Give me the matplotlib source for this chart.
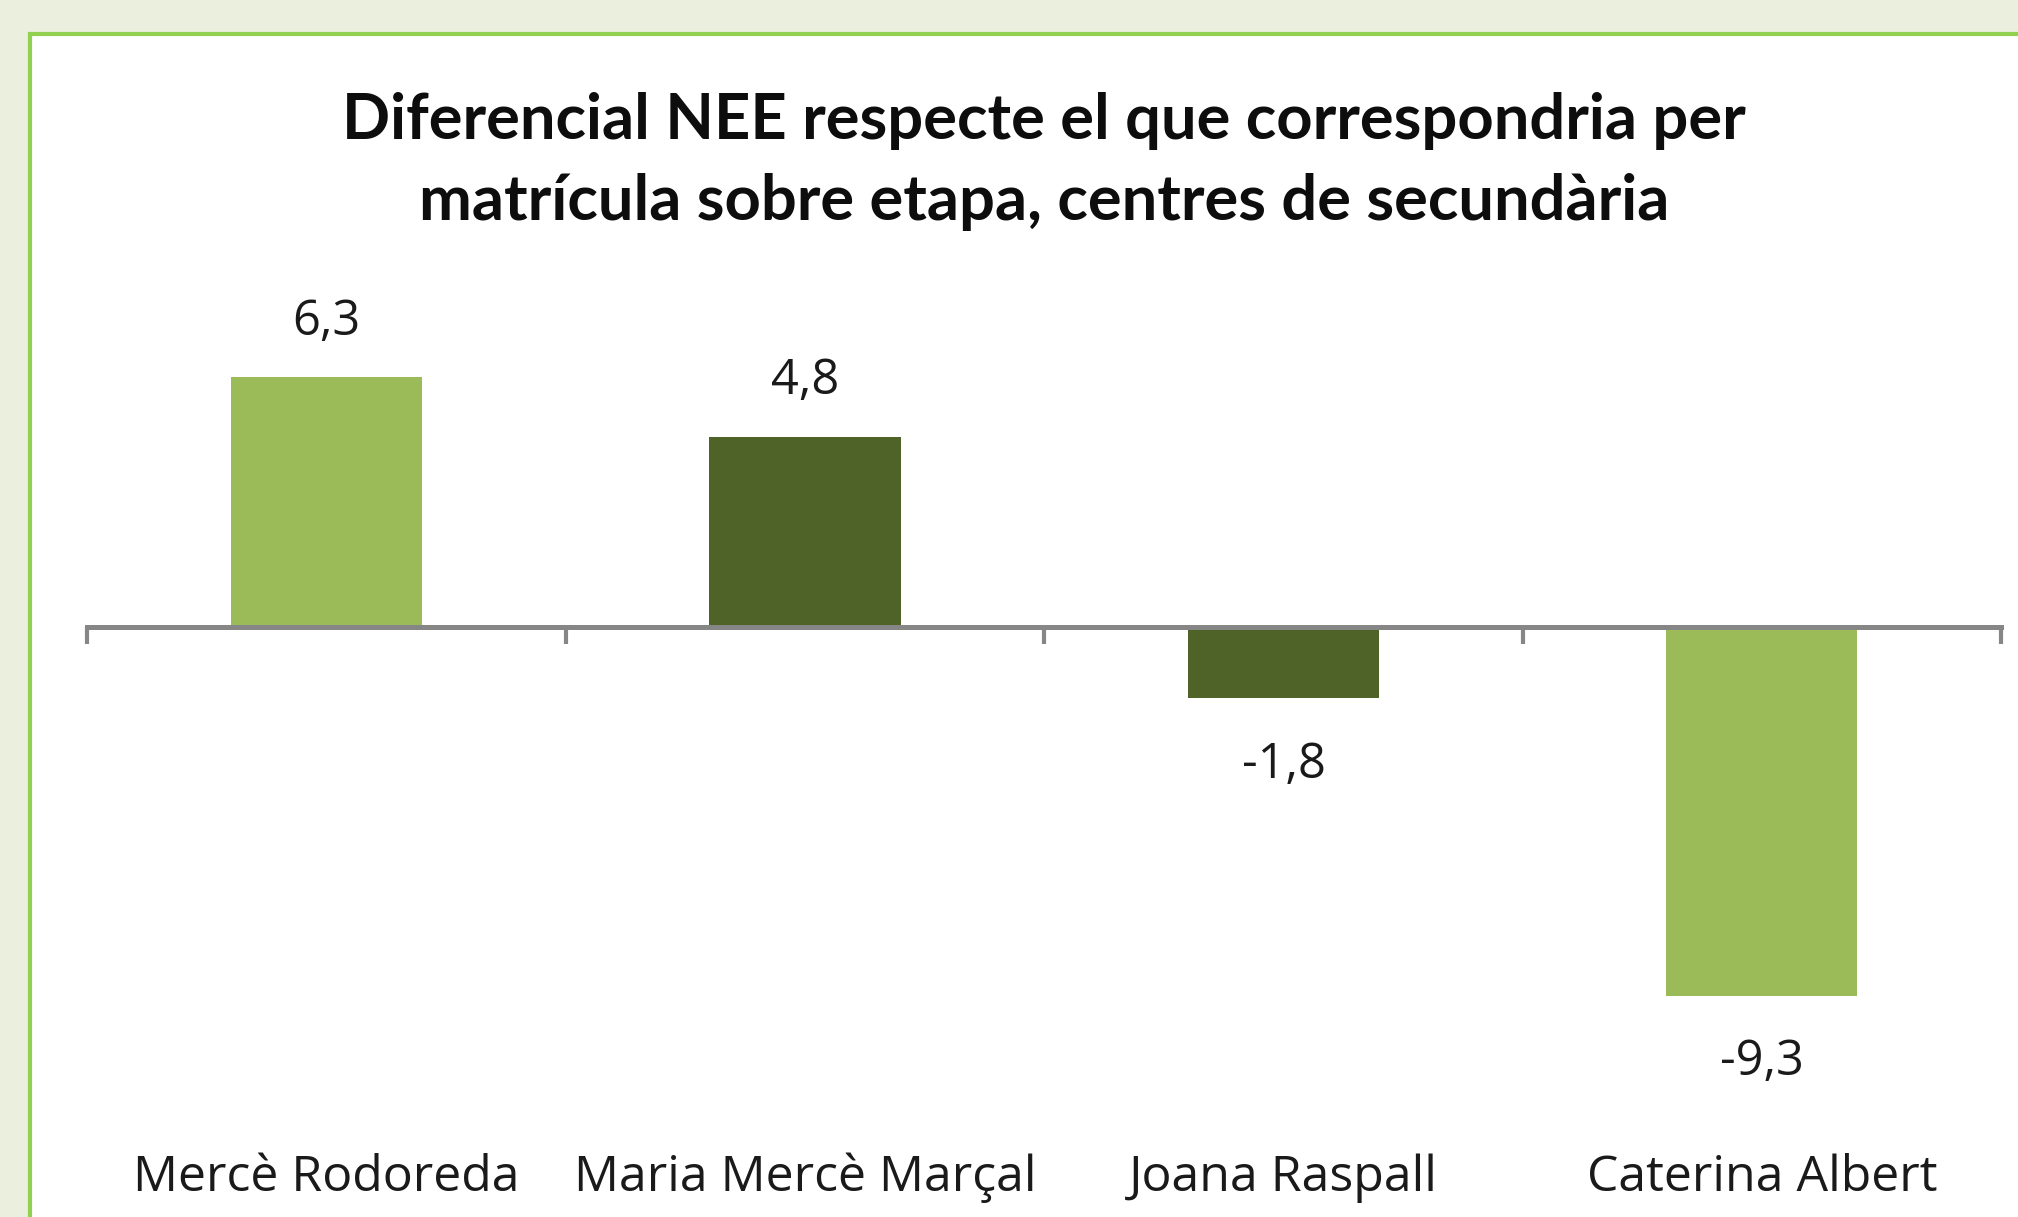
import matplotlib
matplotlib.use("Agg")
import matplotlib.pyplot as plt
from matplotlib.patches import Rectangle
from matplotlib.transforms import blended_transform_factory

categories = ["Mercè Rodoreda", "Maria Mercè Marçal", "Joana Raspall", "Caterina Albert"]
values = [6.3, 4.8, -1.8, -9.3]
value_labels = ["6,3", "4,8", "-1,8", "-9,3"]
title_lines = ["Diferencial NEE respecte el que correspondria per",
               "matrícula sobre etapa, centres de secundària"]

LIGHT = "#9BBB59"
DARK = "#4F6228"
bar_colors = [LIGHT, DARK, DARK, LIGHT]

W, H = 2018, 1217
DPI = 100
fig = plt.figure(figsize=(W / DPI, H / DPI), dpi=DPI, facecolor="#EBEFDE")

# white chart area with green border
fig.patches.append(Rectangle((30 / W, -0.05), 1.1, (H - 34) / H + 0.05,
                             transform=fig.transFigure, facecolor="white",
                             edgecolor="#92D050", linewidth=3.0, zorder=-1))

def px_x(x):
    return x / W

def px_y(y):
    return 1 - y / H

ymin, ymax = -10, 8
zero_px = 627
scale = 39.65
top_px = zero_px - ymax * scale
bot_px = zero_px - ymin * scale
left_px, right_px = 87.5, 2001
ax = fig.add_axes([px_x(left_px), px_y(bot_px), (right_px - left_px) / W, (bot_px - top_px) / H])
ax.set_zorder(2)
ax.set_facecolor("none")
ax.set_xlim(-0.5, len(categories) - 0.5)
ax.set_ylim(ymin, ymax)

x = list(range(len(categories)))
ax.bar(x, values, width=0.4, color=bar_colors, zorder=2)

for s in ["top", "right", "left"]:
    ax.spines[s].set_visible(False)
ax.spines["bottom"].set_position(("data", 0))
ax.spines["bottom"].set_color("#868686")
ax.spines["bottom"].set_linewidth(3.6)
ax.spines["bottom"].set_zorder(3)
ax.set_yticks([])
ax.set_xticks([i - 0.5 for i in range(len(categories) + 1)])
ax.set_xticklabels([])
ax.tick_params(axis="x", direction="out", length=12, width=3, color="#868686")

label_font = "Open Sans"
for xi, v, lab in zip(x, values, value_labels):
    off = 55 if v >= 0 else -67
    ax.annotate(lab, (xi, v), xytext=(0, off * 72 / DPI), textcoords="offset points",
                ha="center", va="center", fontsize=35, family=label_font, color="#1a1a1a")

trans = blended_transform_factory(ax.transData, fig.transFigure)
for xi, c in zip(x, categories):
    ax.text(xi, px_y(1178), c, transform=trans, ha="center", va="center",
            fontsize=36, family=label_font, color="#1a1a1a")

fig.text(px_x(1044), px_y(121), title_lines[0], ha="center", va="center",
         fontsize=45.5, fontweight="bold", family="Lato", color="#0d0d0d")
fig.text(px_x(1044), px_y(202), title_lines[1], ha="center", va="center",
         fontsize=45.5, fontweight="bold", family="Lato", color="#0d0d0d")

fig.savefig("out.png", dpi=DPI, facecolor=fig.get_facecolor())
